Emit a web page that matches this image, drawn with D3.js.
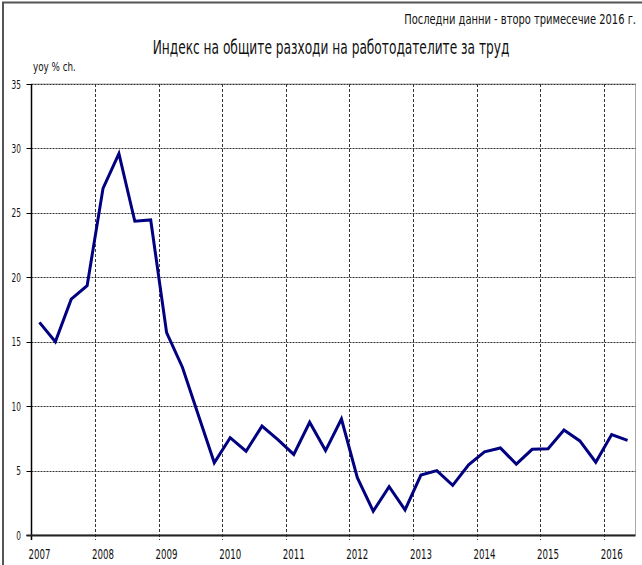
<!DOCTYPE html>
<html>
<head>
<meta charset="utf-8">
<script src="https://cdn.jsdelivr.net/npm/d3@7"></script>
<style>
  html, body { margin: 0; padding: 0; background: #fff; }
  svg { display: block; }
  text { font-family: "Liberation Sans Narrow", "DejaVu Sans Condensed", "Roboto Condensed", sans-serif; fill: #111; }
</style>
</head>
<body>
<svg id="chart" width="642" height="565"></svg>
<script>
// ---- data ----
const years = ["2007","2008","2009","2010","2011","2012","2013","2014","2015","2016"];
const quarters = ["Q1","Q2","Q3","Q4"];
const values = [
  16.5, 15.0, 18.3, 19.35,
  26.9, 29.6, 24.35, 24.45,
  15.7, 13.0, 9.3, 5.6,
  7.55, 6.5, 8.45, 7.4,
  6.25, 8.75, 6.55, 9.0,
  4.45, 1.85, 3.75, 1.95,
  4.65, 5.0, 3.85, 5.45,
  6.45, 6.75, 5.5, 6.65,
  6.7, 8.15, 7.3, 5.65,
  7.8, 7.35
];
const yTicks = [0, 5, 10, 15, 20, 25, 30, 35];
const titleText = "Индекс на общите разходи на работодателите за труд";
const subtitleText = "Последни данни - второ тримесечие 2016 г.";
const unitText = "yoy % ch.";

const categories = [];
years.forEach(y => quarters.forEach(q => categories.push(y + q)));
categories.length = values.length;
const data = categories.map((c, i) => ({ cat: c, value: values[i] }));

// ---- layout ----
const svg = d3.select("#chart");
const pL = 31.5, pR = 635.5, pT = 84, pB = 535;

const x = d3.scalePoint().domain(categories).range([pL, pR]).padding(0.5);
const y = d3.scaleLinear().domain([0, 35]).range([pB, pT]);
const step = x.step();

// horizontally condensed text placed with a transform
function narrowText(parent, str, px, py, size, targetWidth, anchor) {
  const t = parent.append("text").attr("font-size", size).attr("text-anchor", anchor).text(str);
  const w = t.node().getComputedTextLength();
  const s = w > 0 ? targetWidth / w : 1;
  t.attr("transform", `translate(${px},${py}) scale(${s},1)`);
  return t;
}

// outer frame (left + top visible)
svg.append("path").attr("d", `M3,565 V2.5 H642`).attr("fill", "none").attr("stroke", "#555").attr("stroke-width", 2);

// plot border (light)
svg.append("rect").attr("x", pL).attr("y", pT).attr("width", pR - pL).attr("height", pB - pT)
  .attr("fill", "none").attr("stroke", "#aaa").attr("stroke-width", 1);

// horizontal gridlines
svg.append("g").selectAll("line").data(yTicks.filter(t => t > 0)).join("line")
  .attr("x1", pL).attr("x2", pR)
  .attr("y1", d => Math.round(y(d)) + 0.5).attr("y2", d => Math.round(y(d)) + 0.5)
  .attr("stroke", "#333").attr("stroke-width", 1).attr("stroke-dasharray", "2,1");

// vertical gridlines at year boundaries
const yearStarts = years.map(yr => yr + "Q1").filter(c => categories.includes(c));
svg.append("g").selectAll("line").data(yearStarts.slice(1)).join("line")
  .attr("x1", d => Math.round(x(d) - step / 2) + 0.5).attr("x2", d => Math.round(x(d) - step / 2) + 0.5)
  .attr("y1", pT).attr("y2", pB + 5)
  .attr("stroke", "#333").attr("stroke-width", 1).attr("stroke-dasharray", "3,2");

// y axis
svg.append("line").attr("x1", pL).attr("x2", pL).attr("y1", pT).attr("y2", pB + 5)
  .attr("stroke", "#000").attr("stroke-width", 1.5);
svg.append("g").selectAll("line").data(yTicks).join("line")
  .attr("x1", pL - 5).attr("x2", pL)
  .attr("y1", d => Math.round(y(d)) + 0.5).attr("y2", d => Math.round(y(d)) + 0.5)
  .attr("stroke", "#000").attr("stroke-width", 1);
const yLab = svg.append("g");
yTicks.forEach(d => narrowText(yLab, String(d), 21, y(d) + 4.5, 12.5, String(d).length * 4.7, "end"));

// x axis
svg.append("line").attr("x1", pL - 5).attr("x2", pR).attr("y1", pB + 0.5).attr("y2", pB + 0.5)
  .attr("stroke", "#222").attr("stroke-width", 2);
const xLab = svg.append("g");
yearStarts.forEach(d => narrowText(xLab, d.slice(0, 4), x(d), 559, 14.5, 22, "middle"));

// line
svg.append("path").datum(data)
  .attr("fill", "none").attr("stroke", "#000080").attr("stroke-width", 3)
  .attr("stroke-linejoin", "miter")
  .attr("d", d3.line().x(d => x(d.cat)).y(d => y(d.value)));

// texts
narrowText(svg, subtitleText, 636, 24, 14.5, 232, "end");
narrowText(svg, titleText, 331, 54, 19.5, 357, "middle");
narrowText(svg, unitText, 33, 71, 11.5, 43, "start");
</script>
</body>
</html>
